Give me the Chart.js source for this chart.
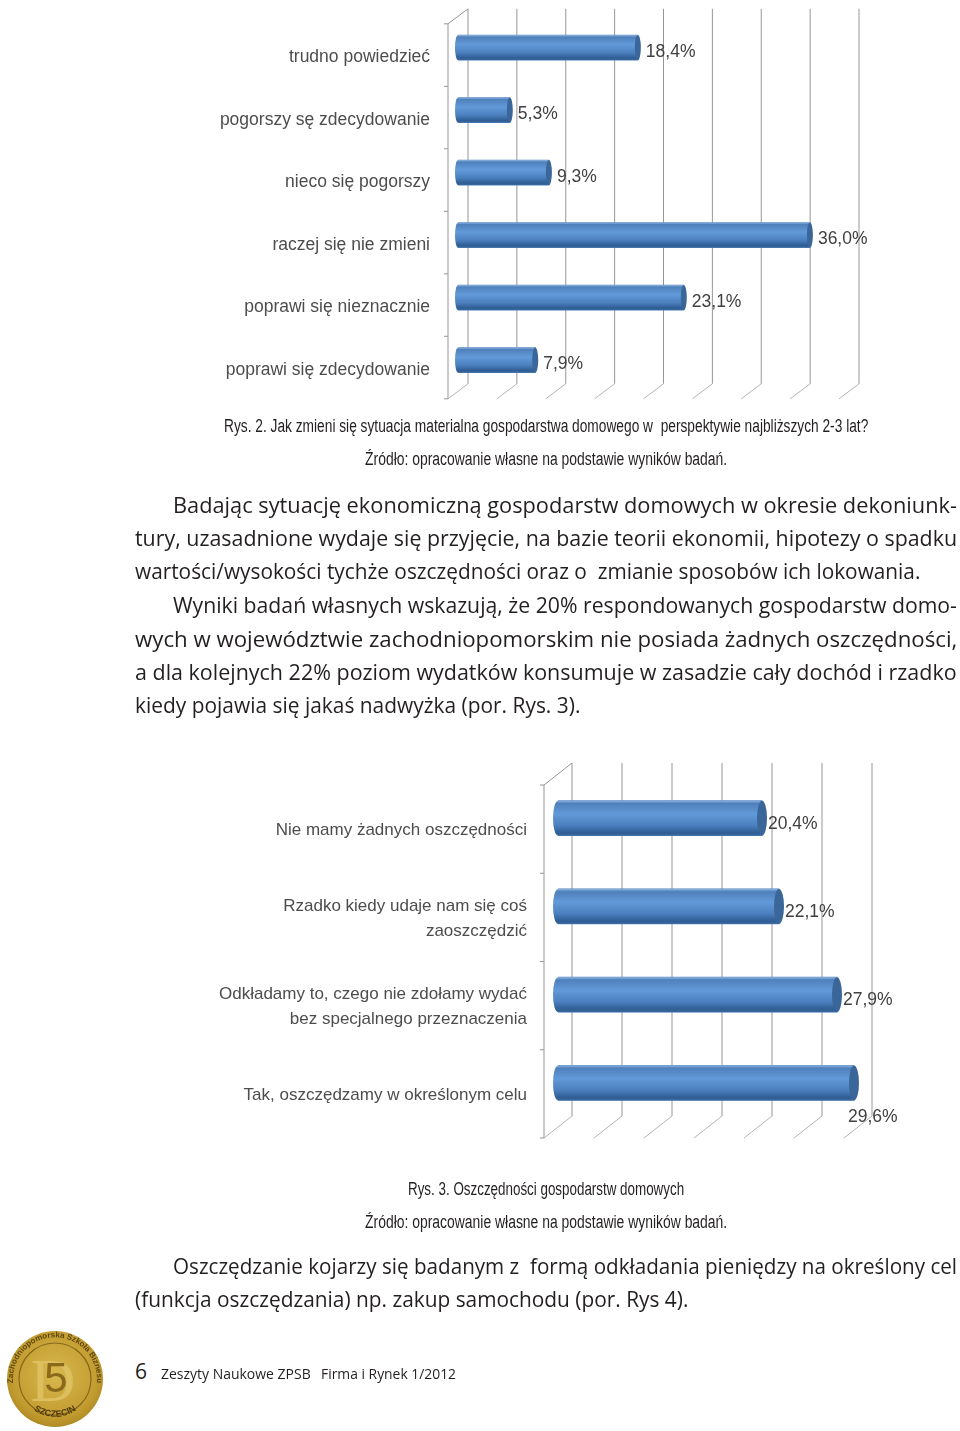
<!DOCTYPE html>
<html lang="pl">
<head>
<meta charset="utf-8">
<title>Rys. 2 i Rys. 3</title>
<script src="https://cdn.jsdelivr.net/npm/chart.js@4"></script>
<style>
  html, body { margin: 0; background: #fff; }
  #page { position: relative; width: 960px; height: 1431px; overflow: hidden; }
  canvas { position: absolute; filter: blur(0.6px); }
  .body { font: 21px/26px "Open Sans", sans-serif; }
  .cap { font: 18px/26px "Liberation Sans", sans-serif; }
  .foot { font: 15px/26px "Open Sans", sans-serif; }
  .line { position: absolute; white-space: pre; height: 26px; color: #231f20; transform-origin: 0 50%; }
</style>
</head>
<body>
<div id="page">
  <canvas id="chart1" width="680" height="410" style="left:210px;top:0"></canvas>
  <canvas id="chart2" width="700" height="400" style="left:210px;top:750px"></canvas>
  <svg width="110" height="110" style="position:absolute;left:0;top:1322px;filter:blur(.7px)">
    <defs>
      <radialGradient id="gold" cx="50%" cy="45%" r="60%">
        <stop offset="0" stop-color="#d8b84e"/><stop offset=".75" stop-color="#c39c30"/><stop offset="1" stop-color="#a5821f"/>
      </radialGradient>
      <path id="ringTop" d="M 21 82 A 42 42 0 1 1 89 82"/>
      <path id="ringBottom" d="M 24 78 A 37 37 0 0 0 86 78"/>
    </defs>
    <circle cx="55" cy="57" r="48" fill="url(#gold)"/>
    <circle cx="55" cy="57" r="36" fill="none" stroke="#86681a" stroke-width="1.2"/>
    <text font-family="Liberation Sans" font-size="8" font-weight="bold" fill="#5f4810" text-anchor="middle"><textPath href="#ringTop" startOffset="50%">Zachodniopomorska Szkoła Biznesu</textPath></text>
    <text font-family="Liberation Sans" font-size="9" font-weight="bold" fill="#4f3b0c" text-anchor="middle"><textPath href="#ringBottom" startOffset="50%">SZCZECIN</textPath></text>
    <text x="53" y="79" font-family="Liberation Serif" font-size="62" fill="#dcbf5e" text-anchor="middle">D</text>
    <text x="56" y="70" font-family="Liberation Sans" font-size="42" fill="#8a6a1a" text-anchor="middle">5</text>
  </svg>
</div>
<script>
const categories1 = [
  "trudno powiedzieć",
  "pogorszy sę zdecydowanie",
  "nieco się pogorszy",
  "raczej się nie zmieni",
  "poprawi się nieznacznie",
  "poprawi się zdecydowanie",
];
const values1 = [18.4, 5.3, 9.3, 36.0, 23.1, 7.9];

const categories2 = [
  "Nie mamy żadnych oszczędności",
  ["Rzadko kiedy udaje nam się coś", "zaoszczędzić"],
  ["Odkładamy to, czego nie zdołamy wydać", "bez specjalnego przeznaczenia"],
  "Tak, oszczędzamy w określonym celu",
];
const values2 = [20.4, 22.1, 27.9, 29.6];

// page text, each line set on its own so the breaks stay as printed
const textLines = [
  ["body", "Badając sytuację ekonomiczną gospodarstw domowych w okresie dekoniunk-", 173, 505, 784],
  ["body", "tury, uzasadnione wydaje się przyjęcie, na bazie teorii ekonomii, hipotezy o spadku", 135, 538, 822],
  ["body", "wartości/wysokości tychże oszczędności oraz o  zmianie sposobów ich lokowania.", 135, 571, 785],
  ["body", "Wyniki badań własnych wskazują, że 20% respondowanych gospodarstw domo-", 173, 605, 784],
  ["body", "wych w województwie zachodniopomorskim nie posiada żadnych oszczędności,", 135, 639, 822],
  ["body", "a dla kolejnych 22% poziom wydatków konsumuje w zasadzie cały dochód i rzadko", 135, 672, 822],
  ["body", "kiedy pojawia się jakaś nadwyżka (por. Rys. 3).", 135, 705, 445],
  ["body", "Oszczędzanie kojarzy się badanym z  formą odkładania pieniędzy na określony cel", 173, 1266, 784],
  ["body", "(funkcja oszczędzania) np. zakup samochodu (por. Rys 4).", 135, 1299, 553],
  ["cap", "Rys. 2. Jak zmieni się sytuacja materialna gospodarstwa domowego w  perspektywie najbliższych 2-3 lat?", 224, 426, 644],
  ["cap", "Źródło: opracowanie własne na podstawie wyników badań.", 365, 459, 362],
  ["cap", "Rys. 3. Oszczędności gospodarstw domowych", 408, 1189, 276],
  ["cap", "Źródło: opracowanie własne na podstawie wyników badań.", 365, 1222, 362],
  ["body", "6", 135, 1371, 12],
  ["foot", "Zeszyty Naukowe ZPSB", 161, 1373, 150],
  ["foot", "Firma i Rynek 1/2012", 321, 1373, 135],
];

const page = document.getElementById("page");
textLines.forEach(([cls, text, x, y, w]) => {
  const d = document.createElement("div");
  d.className = "line " + cls;
  d.textContent = text;
  d.style.left = x + "px";
  d.style.top = (y - 13) + "px";
  page.appendChild(d);
  // squeeze to the printed width, the real fonts are not installed
  d.style.transform = "scaleX(" + w / d.offsetWidth + ")";
});

// fake 3d: walls and floor around the chart area, cylinder shading on the bars
const cylinderPlugin = {
  id: "cylinder",
  beforeDatasetsDraw(chart, args, opts) {
    const { ctx, chartArea, scales } = chart;
    const dx = opts.depthX / 2, dy = opts.depthY / 2;
    ctx.save();
    ctx.lineWidth = 1;
    scales.x.ticks.forEach((t) => {
      const x = scales.x.getPixelForValue(t.value);
      ctx.strokeStyle = "#969696";
      ctx.beginPath();
      ctx.moveTo(x + dx, chartArea.top - dy);
      ctx.lineTo(x + dx, chartArea.bottom - dy);
      ctx.stroke();
      ctx.strokeStyle = "#b4b4b4";
      ctx.beginPath();
      ctx.moveTo(x + dx, chartArea.bottom - dy);
      ctx.lineTo(x - dx, chartArea.bottom + dy);
      ctx.stroke();
    });
    // front axis with its tick marks
    const x0 = scales.x.getPixelForValue(scales.x.min);
    ctx.strokeStyle = "#969696";
    ctx.beginPath();
    ctx.moveTo(x0 + dx, chartArea.top - dy);
    ctx.lineTo(x0 - dx, chartArea.top + dy);
    ctx.lineTo(x0 - dx, chartArea.bottom + dy);
    const band = (chartArea.bottom - chartArea.top) / chart.data.labels.length;
    for (let i = 0; i <= chart.data.labels.length; i++) {
      const y = chartArea.top + dy + band * i;
      ctx.moveTo(x0 - dx, y);
      ctx.lineTo(x0 - dx - 4, y);
    }
    ctx.stroke();
    ctx.restore();
  },
  afterDatasetsDraw(chart, args, opts) {
    const { ctx } = chart;
    const meta = chart.getDatasetMeta(0);
    ctx.save();
    meta.data.forEach((bar, i) => {
      const top = bar.y - bar.height / 2;
      const bottom = bar.y + bar.height / 2;
      const left = bar.base;
      const shade = barGradient(ctx, top, bottom);
      ctx.fillStyle = shade;
      ctx.fillRect(left, top, bar.x - left, bar.height);
      // rounded far end
      ctx.fillStyle = "#3a6699";
      ctx.beginPath();
      ctx.ellipse(bar.x, bar.y, opts.capWidth, bar.height / 2, 0, 0, Math.PI * 2);
      ctx.fill();
      // rounded near end
      ctx.fillStyle = shade;
      ctx.beginPath();
      ctx.ellipse(left, bar.y, opts.capWidth, bar.height / 2, 0, Math.PI / 2, Math.PI * 1.5);
      ctx.fill();
      // value label
      const shift = opts.labelShift(i);
      ctx.fillStyle = "#404040";
      ctx.font = opts.labelFont;
      ctx.textAlign = "left";
      ctx.textBaseline = "middle";
      ctx.fillText(chart.data.datasets[0].data[i].toFixed(1).replace(".", ",") + "%", bar.x + shift[0], bar.y + shift[1]);
    });
    ctx.restore();
  },
};

function barGradient(ctx, top, bottom) {
  const g = ctx.createLinearGradient(0, top, 0, bottom);
  g.addColorStop(0, "#8db4df");
  g.addColorStop(0.08, "#4f80bb");
  g.addColorStop(0.38, "#629ad9");
  g.addColorStop(0.7, "#4c80bf");
  g.addColorStop(0.92, "#2f5d94");
  g.addColorStop(1, "#3b6a9f");
  return g;
}

function createChart(id, labels, values, max, layout) {
  const canvas = document.getElementById(id);
  return new Chart(canvas, {
    type: "bar",
    data: {
      labels: labels,
      datasets: [{
        data: values,
        barThickness: layout.barHeight,
        backgroundColor: "#4f82bf",
      }],
    },
    options: {
      indexAxis: "y",
      responsive: false,
      animation: false,
      devicePixelRatio: 1,
      layout: { padding: { top: layout.top, bottom: canvas.height - layout.bottom, right: canvas.width - layout.right, left: 0 } },
      plugins: {
        legend: { display: false },
        tooltip: { enabled: false },
        cylinder: {
          depthX: layout.depthX,
          depthY: layout.depthY,
          capWidth: layout.capWidth,
          labelFont: layout.labelFont,
          labelShift: layout.labelShift,
        },
      },
      scales: {
        x: {
          min: 0,
          max: max,
          afterFit: (scale) => { scale.height = 0; },
          ticks: { display: false, stepSize: 5 },
          grid: { display: false },
          border: { display: false },
        },
        y: {
          // tick padding would otherwise shrink the plot height
          afterFit: (scale) => {
            scale.width = layout.left;
            scale.paddingTop = 0;
            scale.paddingBottom = 0;
          },
          ticks: {
            padding: layout.tickPadding,
            labelOffset: layout.labelOffset,
            color: "#4d4d4d",
            autoSkip: false,
            font: { family: "Liberation Sans", size: layout.fontSize, lineHeight: layout.lineHeight },
          },
          grid: { display: false, drawTicks: false },
          border: { display: false },
        },
      },
    },
    plugins: [cylinderPlugin],
  });
}

createChart("chart1", categories1, values1, 40, {
  left: 248, right: 639, top: 16.3, bottom: 391.3,
  depthX: 20, depthY: 15, barHeight: 25, capWidth: 3,
  tickPadding: 28, labelOffset: 10, fontSize: 17.5, lineHeight: 1.2,
  labelFont: "17.5px Liberation Sans",
  labelShift: () => [8, 4.5],
});

createChart("chart2", categories2, values2, 30, {
  left: 348, right: 648, top: 24, bottom: 377,
  depthX: 28, depthY: 22, barHeight: 35, capWidth: 5,
  tickPadding: 31, labelOffset: 12.5, fontSize: 17, lineHeight: 1.45,
  labelFont: "17.5px Liberation Sans",
  labelShift: (i) => (i === 3 ? [-6, 34] : [6, 6]),
});
</script>
</body>
</html>
